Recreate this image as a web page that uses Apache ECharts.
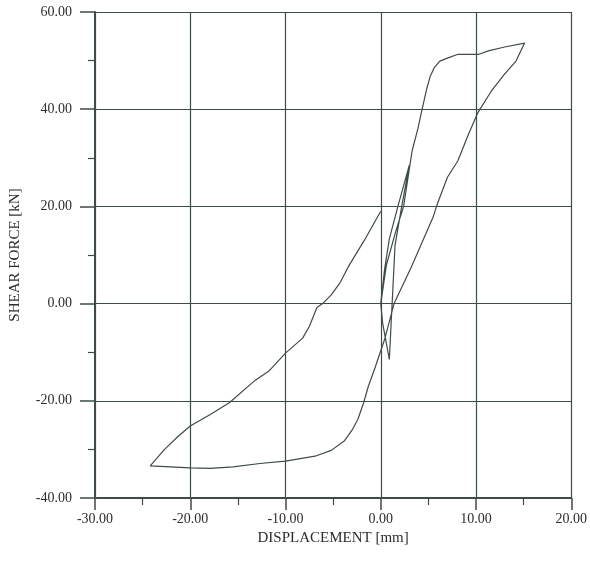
<!DOCTYPE html>
<html>
<head>
<meta charset="utf-8">
<script src="https://cdn.jsdelivr.net/npm/echarts@6/dist/echarts.min.js"></script>
<style>
html,body{margin:0;padding:0;background:#ffffff;}
#chart{width:590px;height:561px;}
</style>
</head>
<body>
<div id="chart"></div>
<script>
// Displacement [mm] values along the recorded path
var displacement = [
  0, 0.4, 0.9, 1.8, 3.0, 2.2, 1.5, 0.9, 0.2, 0.0, 0.6, 1.6, 2.4, 3.3, 3.9, 4.3, 4.8, 5.2, 5.6, 6.2, 7.0, 8.1, 10.3, 11.3, 13.0, 15.1,
  14.2, 13.0, 11.6, 10.2, 9.2, 8.1, 7.0, 5.9, 5.5, 3.2, 1.4, 0.4, -0.6, -1.3, -1.8, -2.4, -3.0, -3.8, -5.2, -6.9, -10.0, -12.7, -15.5, -17.9, -20.0, -24.2,
  -22.7, -21.2, -20.0, -17.9, -15.9, -13.2, -11.7, -10.0, -8.2, -7.5, -6.7, -6.1, -5.2, -4.3, -3.4, -1.7, 0.0
];
// Shear force [kN] values along the same path
var shearForce = [
  0, 7, 13.3, 20, 28.5, 20, 12, -11.5, -4, 0, 8, 15, 20, 31.5, 36, 39.6, 44, 46.8, 48.5, 49.9, 50.5, 51.3, 51.3, 52, 52.8, 53.6,
  49.9, 47.2, 43.7, 39.3, 34.8, 29.4, 26, 20.3, 17.8, 7.5, 0, -7.4, -13.2, -17, -20.4, -23.8, -26, -28.2, -30.2, -31.4, -32.4, -32.9, -33.6, -33.9, -33.8, -33.4,
  -30, -27.2, -25.2, -22.8, -20.4, -15.8, -13.8, -10.2, -7.1, -4.7, -0.8, 0, 1.8, 4.2, 7.6, 13.1, 19
];
var xTicks = [-30, -20, -10, 0, 10, 20];
var yTicks = [-40, -20, 0, 20, 40, 60];

var pts = displacement.map(function (d, i) { return [d, shearForce[i]]; });
var ink = '#3e4b48';
var textInk = '#2a2f2e';
var font = "'Liberation Serif', 'DejaVu Serif', serif";

var chart = echarts.init(document.getElementById('chart'), null, {renderer: 'canvas'});
chart.setOption({
  animation: false,
  backgroundColor: '#ffffff',
  grid: {left: 95, right: 14, top: 12, bottom: 63, containLabel: false},
  xAxis: {
    type: 'value',
    min: xTicks[0], max: xTicks[xTicks.length - 1], interval: 10,
    name: 'DISPLACEMENT [mm]',
    nameLocation: 'middle', nameGap: 31,
    nameTextStyle: {fontFamily: font, fontSize: 15, color: textInk},
    axisLine: {show: true, onZero: false, lineStyle: {color: ink, width: 2}},
    axisTick: {show: true, inside: false, length: 12, lineStyle: {color: ink, width: 1.5}},
    minorTick: {show: true, splitNumber: 2, length: 7, lineStyle: {color: ink, width: 1.2}},
    axisLabel: {margin: 14, fontFamily: font, fontSize: 14, color: textInk,
      formatter: function (v) { return v.toFixed(2); }},
    splitLine: {show: true, lineStyle: {color: ink, width: 1.2}}
  },
  yAxis: {
    type: 'value',
    min: yTicks[0], max: yTicks[yTicks.length - 1], interval: 20,
    name: 'SHEAR FORCE [kN]',
    nameLocation: 'middle', nameGap: 72, nameRotate: 90,
    nameTextStyle: {fontFamily: font, fontSize: 15, color: textInk},
    axisLine: {show: true, onZero: false, lineStyle: {color: ink, width: 2}},
    axisTick: {show: true, inside: false, length: 15, lineStyle: {color: ink, width: 1.5}},
    minorTick: {show: true, splitNumber: 2, length: 7, lineStyle: {color: ink, width: 1.2}},
    axisLabel: {margin: 23, fontFamily: font, fontSize: 14, color: textInk,
      formatter: function (v) { return v.toFixed(2); }},
    splitLine: {show: true, lineStyle: {color: ink, width: 1.2}}
  },
  series: [{
    type: 'line',
    data: pts,
    showSymbol: false,
    smooth: false,
    lineStyle: {color: ink, width: 1.2},
    z: 3
  }]
});
</script>
</body>
</html>
